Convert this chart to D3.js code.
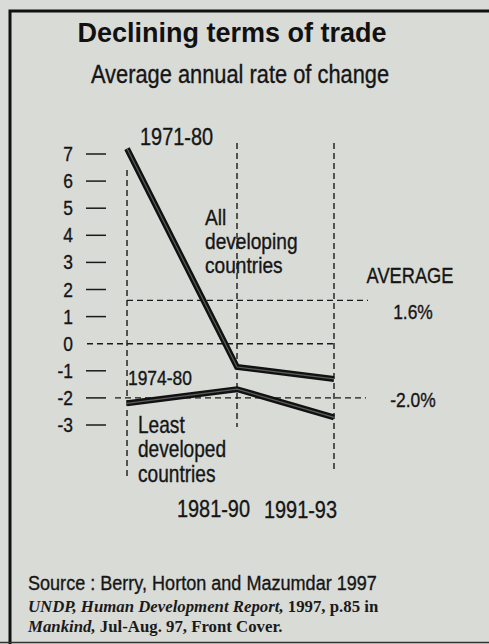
<!DOCTYPE html>
<html>
<head>
<meta charset="utf-8">
<script src="https://cdn.jsdelivr.net/npm/d3@7/dist/d3.min.js"></script>
<style>
  body { margin: 0; background: #d9dbd7; }
  svg { display: block; }
  .narrow { font-family: "Liberation Sans", Arial, sans-serif; fill: #151515; stroke: #151515; stroke-width: 0.35; }
  .dash { stroke: #1a1a1a; stroke-width: 1.4; stroke-dasharray: 6,4; fill: none; }
</style>
</head>
<body>
<script>
var width = 489,
    height = 644,
    squeeze = 0.83;   // condensed look of the original type

// data
var periods = ["1971-80", "1981-90", "1991-93"];
var allDeveloping = [7.2, -0.86, -1.3];
var leastDeveloped = [-2.2, -1.68, -2.72];
var leastStart = "1974-80";
var averages = [1.6, -2.0];
var averageLabels = ["1.6%", "-2.0%"];
var yTicks = [7, 6, 5, 4, 3, 2, 1, 0, -1, -2, -3];

var svg = d3.select("body")
            .append("svg")
            .attr("width", width)
            .attr("height", height);

// frame of the clipping
svg.append("path")
   .attr("d", "M10,644 L10,11 L489,11")
   .attr("fill", "none")
   .attr("stroke", "#111")
   .attr("stroke-width", 3);
svg.append("line")
   .attr("x1", 0).attr("x2", width)
   .attr("y1", 642.5).attr("y2", 642.5)
   .attr("stroke", "#333")
   .attr("stroke-width", 1.5);

var y = d3.scaleLinear().domain([-3, 7]).range([425, 154]);
var x = d3.scaleLinear().domain([0, 1, 2]).range([127, 237, 334]);

function ntext(px, py, size, str, anchor, sx) {
  return svg.append("text")
            .attr("class", "narrow")
            .attr("transform", "translate(" + px + "," + py + ") scale(" + (sx || squeeze) + ",1)")
            .attr("text-anchor", anchor || "start")
            .style("font-size", size + "px")
            .text(str);
}

// titles
svg.append("text")
   .attr("x", 232).attr("y", 42)
   .attr("text-anchor", "middle")
   .style("font-family", "'Liberation Sans', Arial, sans-serif")
   .style("font-weight", "bold")
   .style("font-size", "27px")
   .style("fill", "#111")
   .text("Declining terms of trade");

ntext(240, 83, 26, "Average annual rate of change", "middle", 0.84);

// y axis: numbers with short dashes (0 gets a dashed rule instead)
var yAxis = svg.append("g");
yAxis.selectAll("text")
     .data(yTicks)
     .enter()
     .append("text")
     .attr("class", "narrow")
     .attr("transform", function(d) { return "translate(73," + (y(d) + 7) + ") scale(" + squeeze + ",1)"; })
     .attr("text-anchor", "end")
     .style("font-size", "21px")
     .text(function(d) { return d; });
yAxis.selectAll("line")
     .data(yTicks.filter(function(d) { return d !== 0; }))
     .enter()
     .append("line")
     .attr("x1", 86).attr("x2", 106)
     .attr("y1", function(d) { return y(d); })
     .attr("y2", function(d) { return y(d); })
     .attr("stroke", "#1a1a1a")
     .attr("stroke-width", 1.5);

// dashed guides
svg.append("line").attr("class", "dash")
   .attr("x1", 87).attr("x2", x(2))
   .attr("y1", y(0)).attr("y2", y(0));
svg.append("line").attr("class", "dash")
   .attr("x1", x(0)).attr("x2", 368)
   .attr("y1", y(averages[0])).attr("y2", y(averages[0]));
svg.append("line").attr("class", "dash")
   .attr("x1", 115).attr("x2", 366)
   .attr("y1", y(averages[1])).attr("y2", y(averages[1]));

var vTop = [170, 143, 143],
    vBottom = [477, 427, 473];
svg.selectAll(".vguide")
   .data(periods)
   .enter()
   .append("line")
   .attr("class", "dash vguide")
   .attr("x1", function(d, i) { return x(i); })
   .attr("x2", function(d, i) { return x(i); })
   .attr("y1", function(d, i) { return vTop[i]; })
   .attr("y2", function(d, i) { return vBottom[i]; });

// the two series
var line = d3.line()
             .x(function(d, i) { return x(i); })
             .y(function(d) { return y(d); });

[allDeveloping, leastDeveloped].forEach(function(s) {
  svg.append("path")
     .attr("d", line(s))
     .attr("fill", "none")
     .attr("stroke", "#111")
     .attr("stroke-width", 6)
     .attr("stroke-linejoin", "miter");
  svg.append("path")
     .attr("d", line(s))
     .attr("fill", "none")
     .attr("stroke", "#5e5e5e")
     .attr("stroke-width", 1.2);
});

// period labels
ntext(x(0) + 13, 145, 24, periods[0]);
ntext(x(0) + 1, 385, 21, leastStart);
ntext(x(1) + 13, 517, 24, periods[1], "end");
ntext(x(2) + 3, 518, 24, periods[2], "end");

// series names
var allName = ntext(205, 225, 22, null, "start", 0.87);
["All", "developing", "countries"].forEach(function(t, i) {
  allName.append("tspan").attr("x", 0).attr("dy", i ? 24 : 0).text(t);
});
var leastName = ntext(138, 433, 23, null);
["Least", "developed", "countries"].forEach(function(t, i) {
  leastName.append("tspan").attr("x", 0).attr("dy", i ? 24.5 : 0).text(t);
});

// averages
ntext(410, 283, 22, "AVERAGE", "middle");
var avgDy = [19, 9];
averages.forEach(function(d, i) {
  ntext(413, y(d) + avgDy[i], 21, averageLabels[i], "middle");
});

// source
ntext(28, 590, 21, "Source : Berry, Horton and Mazumdar 1997", "start", 0.86);

var cite1 = svg.append("text")
   .attr("x", 28).attr("y", 612)
   .style("font-family", "'Liberation Serif', 'Times New Roman', serif")
   .style("font-size", "16.8px")
   .style("font-weight", "bold")
   .style("fill", "#1a1a1a");
cite1.append("tspan").style("font-style", "italic").text("UNDP, Human Development Report,");
cite1.append("tspan").text(" 1997, p.85 in");

var cite2 = svg.append("text")
   .attr("x", 28).attr("y", 632)
   .style("font-family", "'Liberation Serif', 'Times New Roman', serif")
   .style("font-size", "16.8px")
   .style("font-weight", "bold")
   .style("fill", "#1a1a1a");
cite2.append("tspan").style("font-style", "italic").text("Mankind,");
cite2.append("tspan").text(" Jul-Aug. 97, Front Cover.");
</script>
</body>
</html>
